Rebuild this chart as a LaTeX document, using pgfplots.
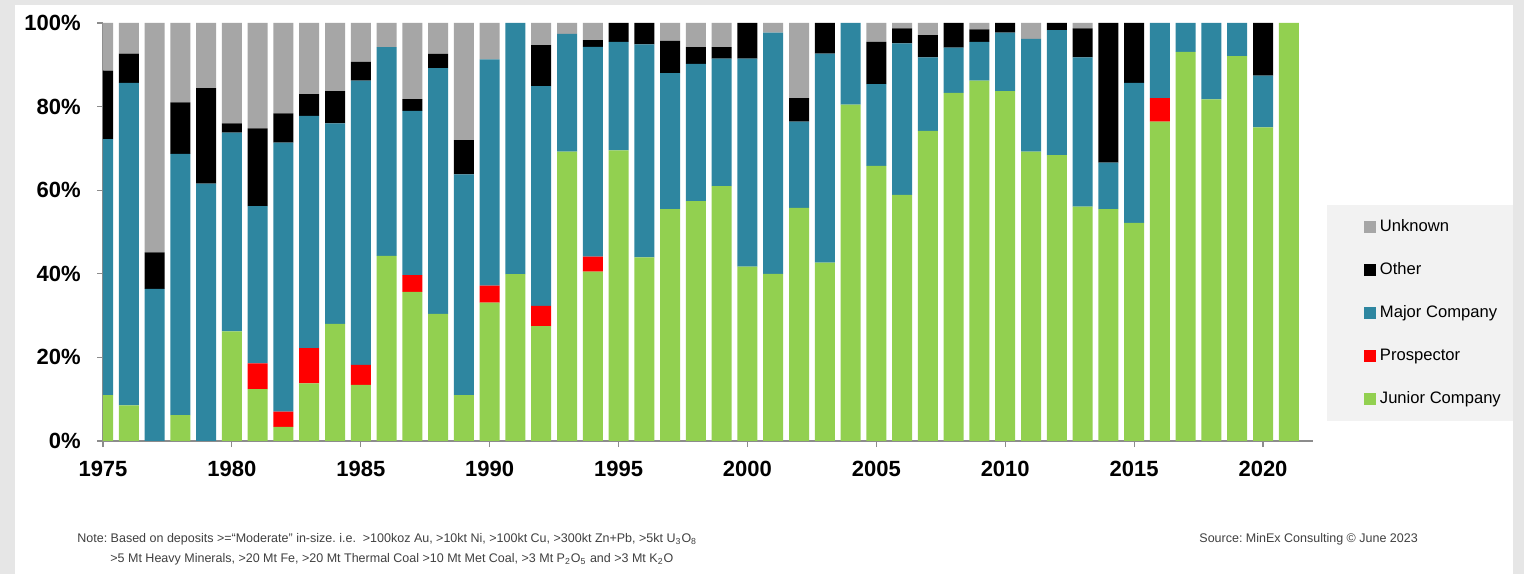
\documentclass[border=0pt]{standalone}
\usepackage{fontspec}
\setmainfont{Liberation Sans}
\usepackage{pgfplots}
\pgfplotsset{compat=1.18}
\usepackage{pgfplotstable}
\definecolor{cUnk}{HTML}{A6A6A6}
\definecolor{cOth}{HTML}{000000}
\definecolor{cMaj}{HTML}{2E86A0}
\definecolor{cPro}{HTML}{FF0000}
\definecolor{cJun}{HTML}{92D050}
\definecolor{frame}{HTML}{E6E6E6}
\definecolor{legbg}{HTML}{F2F2F2}
\definecolor{axgray}{HTML}{8C8C8C}
\definecolor{notegray}{HTML}{404040}
\frenchspacing

\pgfplotstableread{
year J P M O U
1975 11.0 0 61.2 16.4 11.4
1976 8.5 0 77.2 7.0 7.3
1977 0 0 36.4 8.7 54.9
1978 6.2 0 62.5 12.3 19.0
1979 0 0 61.6 22.8 15.6
1980 26.2 0 47.6 2.2 24.0
1981 12.4 6.2 37.6 18.6 25.2
1982 3.4 3.6 64.4 7.0 21.6
1983 13.8 8.4 55.6 5.2 17.0
1984 28.0 0 48.0 7.7 16.3
1985 13.4 4.8 68.0 4.5 9.3
1986 44.3 0 49.9 0 5.8
1987 35.7 4.0 39.3 2.8 18.2
1988 30.4 0 58.8 3.4 7.4
1989 11.0 0 52.8 8.2 28.0
1990 33.1 4.1 54.1 0 8.7
1991 39.9 0 60.1 0 0
1992 27.5 4.8 52.6 9.8 5.3
1993 69.2 0 28.2 0 2.6
1994 40.5 3.6 50.2 1.6 4.1
1995 69.5 0 26.0 4.5 0
1996 43.9 0 51.0 5.1 0
1997 55.5 0 32.5 7.7 4.3
1998 57.4 0 32.8 4.0 5.8
1999 61.0 0 30.5 2.7 5.8
2000 41.7 0 49.8 8.5 0
2001 40.0 0 57.7 0 2.3
2002 55.8 0 20.6 5.6 18.0
2003 42.7 0 50.0 7.3 0
2004 80.5 0 19.5 0 0
2005 65.8 0 19.6 10.1 4.5
2006 58.9 0 36.2 3.6 1.3
2007 74.2 0 17.6 5.3 2.9
2008 83.3 0 10.8 5.9 0
2009 86.2 0 9.3 3.0 1.5
2010 83.7 0 14.0 2.3 0
2011 69.2 0 27.0 0 3.8
2012 68.4 0 29.9 1.7 0
2013 56.1 0 35.7 6.9 1.3
2014 55.5 0 11.1 33.4 0
2015 52.2 0 33.5 14.3 0
2016 76.4 5.6 18.0 0 0
2017 93.1 0 6.9 0 0
2018 81.7 0 18.3 0 0
2019 92.1 0 7.9 0 0
2020 75.0 0 12.4 12.6 0
2021 100 0 0 0 0
}\data

\pgfplotsset{
  mybar/.style={draw=none, fill=#1,
    legend image code/.code={\fill[fill=#1] (0bp,-2.9bp) rectangle (5.8bp,2.9bp);}},
}

\begin{document}
\begin{tikzpicture}
\fill[frame] (0,0) rectangle (762bp,287bp);
\fill[white] (7.5bp,0) rectangle (756.5bp,284.5bp);
\fill[legbg] (663.5bp,76.5bp) rectangle (756.5bp,184.5bp);
\begin{axis}[
  at={(51.5bp,66.5bp)}, anchor=south west,
  scale only axis, width=605bp, height=209bp,
  ybar stacked, bar width=10bp,
  xmin=1975, xmax=2021.94, ymin=0, ymax=100,
  enlargelimits=false,
  axis x line=bottom, axis y line=left,
  axis line style={draw=axgray, line width=0.6bp, -},
  tick style={draw=axgray, line width=0.6bp},
  tick align=outside, major tick length=3bp,
  xtick={1975,1980,...,2020},
  xticklabels={1975,1980,1985,1990,1995,2000,2005,2010,2015,2020},
  ytick={0,20,40,60,80,100},
  yticklabels={0\%,20\%,40\%,60\%,80\%,100\%},
  /pgf/number format/assume math mode=true,
  ticklabel style={font=\fontsize{11bp}{13bp}\selectfont\bfseries, text=black},
  xticklabel style={anchor=north, inner sep=0pt, yshift=-7bp},
  yticklabel style={anchor=east, inner sep=0pt, xshift=-8bp},
  reverse legend,
  legend style={at={(axis description cs:1.0421,0.3062)}, anchor=west,
    draw=none, fill=none, inner sep=0pt, column sep=2bp, row sep=14bp,
    font=\fontsize{8.3bp}{10bp}\selectfont,
    nodes={inner sep=0pt, text height=6bp, text depth=1.5bp, anchor=west}},
  legend cell align=left,
]
\addplot[mybar=cJun] table[x=year,y=J] {\data};
\addlegendentry{Junior Company}
\addplot[mybar=cPro] table[x=year,y=P] {\data};
\addlegendentry{Prospector}
\addplot[mybar=cMaj] table[x=year,y=M] {\data};
\addlegendentry{Major Company}
\addplot[mybar=cOth] table[x=year,y=O] {\data};
\addlegendentry{Other}
\addplot[mybar=cUnk] table[x=year,y=U] {\data};
\addlegendentry{Unknown}
\end{axis}
\node[anchor=west, inner sep=0pt, text=notegray, font=\fontsize{6.25bp}{7.5bp}\selectfont] at (38.5bp,17.5bp)
  {Note: Based on deposits >=\textquotedblleft Moderate\textquotedblright\ in-size. i.e.\ \ >100koz Au, >10kt Ni, >100kt Cu, >300kt Zn+Pb, >5kt U\textsubscript{3}O\textsubscript{8}};
\node[anchor=west, inner sep=0pt, text=notegray, font=\fontsize{6.25bp}{7.5bp}\selectfont] at (55bp,7.5bp)
  {>5 Mt Heavy Minerals, >20 Mt Fe, >20 Mt Thermal Coal >10 Mt Met Coal, >3 Mt P\textsubscript{2}O\textsubscript{5} and >3 Mt K\textsubscript{2}O};
\node[anchor=west, inner sep=0pt, text=notegray, font=\fontsize{6.25bp}{7.5bp}\selectfont] at (599.5bp,17.5bp)
  {Source: MinEx Consulting \textcopyright\ June 2023};
\pgfresetboundingbox
\useasboundingbox (0,0) rectangle (762bp,287bp);
\end{tikzpicture}
\end{document}
